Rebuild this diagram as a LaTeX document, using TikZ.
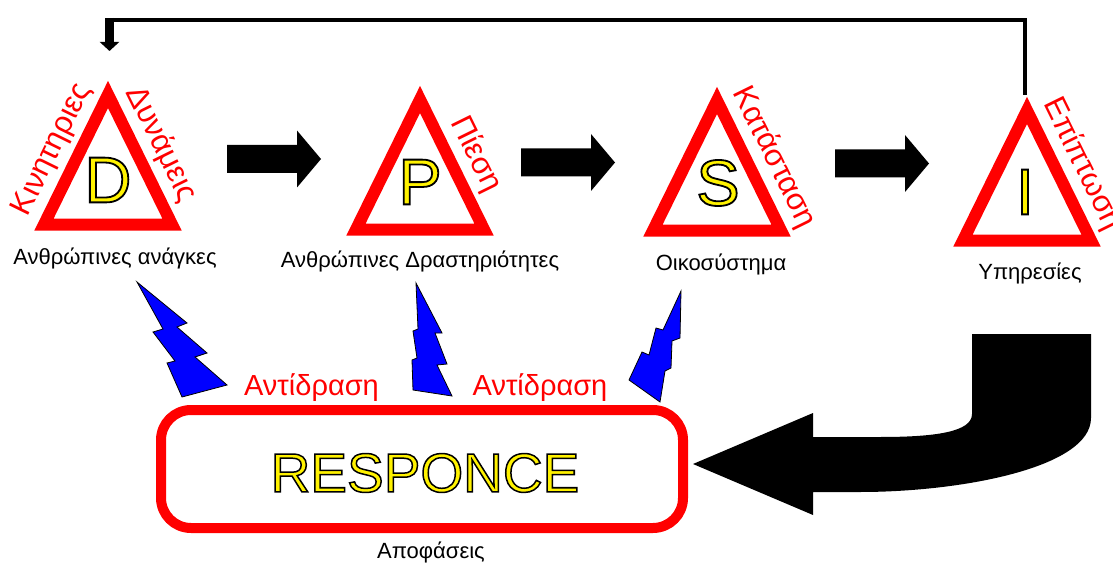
\documentclass[tikz,border=0pt]{standalone}
\usepackage{fontspec}
\setmainfont{Liberation Sans}
\usetikzlibrary{calc,arrows.meta}
\newcommand\px[1]{\fontsize{#1}{#1}\selectfont}
\newcommand\outlinetext[2]{\special{pdf:literal direct 0 0 0 RG #1 w 2 Tr}#2\special{pdf:literal direct 0 Tr}}
\def\warntri(#1)(#2,#3){%
	\coordinate (#1t) at (#2,#3);
	\coordinate (#1r) at (#2+64,#3+130);
	\coordinate (#1l) at (#2-64,#3+130);
	\draw[tri] (#1t) -- (#1r) -- (#1l) -- cycle;}
\def\blockarrow(#1,#2){\fill[black] (#1,#2) ++(0,-14) -- ++(70,0) -- ++(0,-14.5) -- ++(24,28.5) -- ++(-24,28.5) -- ++(0,-14.5) -- ++(-70,0) -- cycle;}
\tikzset{
	tri/.style={draw=red, line width=12pt, line join=miter},
	letter/.style={text=yellow, font=\px{65}, inner sep=0pt},
	sidelabel/.style={text=red, font=\px{31}, sloped, above=11pt, inner sep=0pt},
	undertext/.style={font=\px{22}, anchor=base, inner sep=0pt},
	reaction/.style={text=red, font=\px{29}, anchor=base, inner sep=0pt},
	bolt/.style={fill=blue, draw=black, line width=0.8pt, line join=miter},
}

\begin{document}
\begin{tikzpicture}[x=1pt,y=-1pt]
	\path[use as bounding box, fill=white] (0,0) rectangle (1113,564);
	
	%%%%% TRIANGLES %%%%%
	\warntri(D)(108,94.5)
	\warntri(P)(420,99.5)
	\warntri(S)(717,100.5)
	\warntri(I)(1027,110.5)
	
	\node[letter] (Dletter) at (108,180) {\outlinetext{1.8}{D}};
	\node[letter] (Pletter) at (420,182) {\outlinetext{1.8}{P}};
	\node[letter] (Sletter) at (718,183) {\outlinetext{1.8}{S}};
	\node[letter] (Iletter) at (1025,192) {\outlinetext{1.8}{I}};
	
	\path (Dl) -- (Dt) node[sidelabel, pos=0.49] (Dleft) {Κινητηριες};
	\path (Dt) -- (Dr) node[sidelabel, pos=0.47] (Dright) {Δυνάμεις};
	\path (Pt) -- (Pr) node[sidelabel, pos=0.51] (Pright) {Πίεση};
	\path (St) -- (Sr) node[sidelabel, pos=0.53] (Sright) {Κατάσταση};
	\path (It) -- (Ir) node[sidelabel, pos=0.5] (Iright) {Επίπτωση};
	
	\node[undertext] (Dtext) at (115,264) {Ανθρώπινες ανάγκες};
	\node[undertext] (Ptext) at (420,267) {Ανθρώπινες Δραστηριότητες};
	\node[undertext] (Stext) at (721,270) {Οικοσύστημα};
	\node[undertext] (Itext) at (1030,279) {Υπηρεσίες};
	
	%%%%% ARROWS %%%%%
	\blockarrow(227,159)
	\blockarrow(521,162.5)
	\blockarrow(835,163.5)
	
	\coordinate (Itop) at (1025,95);
	\coordinate (fbcorner) at (109.5,20);
	\coordinate (fbtip) at (109.5,51);
	\draw[line width=4.5pt, line join=miter] (Itop) |- (fbcorner);
	\draw[line width=9pt, -{Triangle[width=19pt,length=9pt]}] ($(fbcorner)+(0,-2)$) -- (fbtip);
	
	\fill[black] (972,334) -- (1091,334) -- (1091,418)
		.. controls (1091,468) and (960,492) .. (860,492) -- (813,492)
		-- (813,515) -- (693,464) -- (813,413) -- (813,437) -- (880,437)
		.. controls (935,437) and (972,432) .. (972,414) -- cycle;
	
	%%%%% BOLTS %%%%%
	\draw[bolt] (137,282) -- (187,323) -- (177,327) -- (207,353) -- (195,357) -- (227,385)
		-- (182,397) -- (167,363) -- (175,361) -- (153,332) -- (163,329) -- cycle;
	\draw[bolt] (416,283) -- (442,333) -- (435,333) -- (447,364) -- (437,365) -- (452,396)
		-- (413,390) -- (412,360) -- (417,358) -- (413,331) -- (418,329) -- cycle;
	\draw[bolt] (681,291) -- (680,338) -- (672,341) -- (671,368) -- (665,371) -- (660,402)
		-- (629,380) -- (642,352) -- (649,355) -- (656,328) -- (663,330) -- cycle;
	
	%%%%% RESPONSE %%%%%
	\node[reaction] (react1) at (311.5,395) {Αντίδραση};
	\node[reaction] (react2) at (540,395) {Αντίδραση};
	\node[draw=red, line width=10pt, rounded corners=30pt, minimum width=522pt, minimum height=118pt] (respbox) at (422,469) {};
	\node[letter, font=\px{55}] (resptext) at (425,473) {\outlinetext{1.5}{RESPONCE}};
	\node[undertext] (decide) at (431,558) {Αποφάσεις};
\end{tikzpicture}
\end{document}
